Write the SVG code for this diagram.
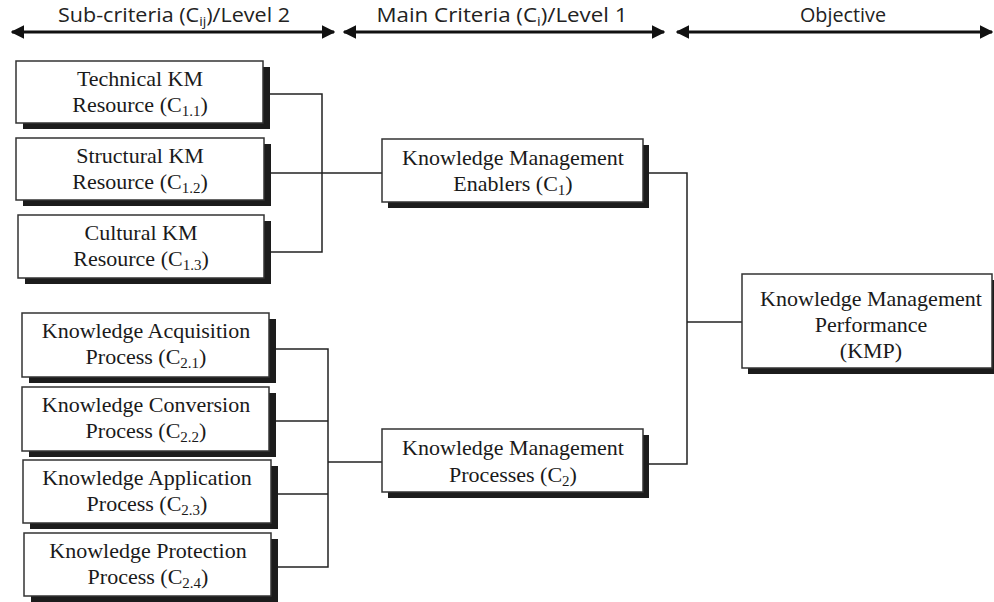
<svg xmlns="http://www.w3.org/2000/svg" width="994" height="602" viewBox="0 0 994 602">
<defs>
<marker id="ah" viewBox="0 0 10 10" refX="9" refY="5" markerWidth="4.5" markerHeight="5" orient="auto-start-reverse" markerUnits="strokeWidth">
<path d="M0,0 L10,5 L0,10 Z" fill="#111"/>
</marker>
</defs>
<style>
.hdr{font-family:"Open Sans","Liberation Sans",sans-serif;font-size:20px;fill:#222;text-anchor:middle}
.axis{stroke:#111;stroke-width:3;fill:none}
.sh{fill:#1c1c1c}
.bx{fill:#fff;stroke:#333;stroke-width:1.5}
.t{font-family:"Liberation Serif","Times New Roman",serif;font-size:22px;fill:#1a1a1a;text-anchor:middle}
.sub{font-size:15px}
.cn{stroke:#222;stroke-width:1.5;fill:none}
</style>
<rect width="994" height="602" fill="#fff"/>
<g id="header">
<line class="axis" x1="12" y1="32" x2="334" y2="32" marker-start="url(#ah)" marker-end="url(#ah)"/>
<line class="axis" x1="344" y1="32" x2="664" y2="32" marker-start="url(#ah)" marker-end="url(#ah)"/>
<line class="axis" x1="677" y1="32" x2="992" y2="32" marker-start="url(#ah)" marker-end="url(#ah)"/>
<text class="hdr" x="174" y="22" textLength="232" lengthAdjust="spacingAndGlyphs">Sub-criteria (C<tspan font-size="13" dy="4">ij</tspan><tspan dy="-4">)/Level 2</tspan></text>
<text class="hdr" x="502" y="22" textLength="251" lengthAdjust="spacingAndGlyphs">Main Criteria (C<tspan font-size="13" dy="4">i</tspan><tspan dy="-4">)/Level 1</tspan></text>
<text class="hdr" x="843" y="22" textLength="86" lengthAdjust="spacingAndGlyphs">Objective</text>
</g>
<g id="connectors">
<polyline class="cn" points="263,94 322,94 322,252 264,252"/>
<line class="cn" x1="264" y1="173" x2="382" y2="173"/>
<polyline class="cn" points="643,173 687,173 687,464 643,464"/>
<line class="cn" x1="687" y1="322" x2="742" y2="322"/>
<polyline class="cn" points="269,349 328,349 328,567 271,567"/>
<line class="cn" x1="269" y1="421" x2="328" y2="421"/>
<line class="cn" x1="271" y1="494" x2="328" y2="494"/>
<line class="cn" x1="328" y1="462" x2="382" y2="462"/>
</g>
<g id="c11">
<rect class="sh" x="23" y="67" width="247" height="62"/>
<rect class="bx" x="16" y="61" width="247" height="62"/>
<text class="t" x="140" y="86">Technical KM</text>
<text class="t" x="140" y="112">Resource (C<tspan class="sub" dy="4">1.1</tspan><tspan dy="-4">)</tspan></text>
</g>
<g id="c12">
<rect class="sh" x="23" y="144" width="248" height="62"/>
<rect class="bx" x="16" y="138" width="248" height="62"/>
<text class="t" x="140" y="163">Structural KM</text>
<text class="t" x="140" y="189">Resource (C<tspan class="sub" dy="4">1.2</tspan><tspan dy="-4">)</tspan></text>
</g>
<g id="c13">
<rect class="sh" x="25" y="221" width="246" height="63"/>
<rect class="bx" x="18" y="215" width="246" height="63"/>
<text class="t" x="141" y="240">Cultural KM</text>
<text class="t" x="141" y="266">Resource (C<tspan class="sub" dy="4">1.3</tspan><tspan dy="-4">)</tspan></text>
</g>
<g id="c21">
<rect class="sh" x="29" y="319" width="247" height="64"/>
<rect class="bx" x="22" y="313" width="247" height="64"/>
<text class="t" x="146" y="338">Knowledge Acquisition</text>
<text class="t" x="146" y="364">Process (C<tspan class="sub" dy="4">2.1</tspan><tspan dy="-4">)</tspan></text>
</g>
<g id="c22">
<rect class="sh" x="29" y="393" width="247" height="64"/>
<rect class="bx" x="22" y="387" width="247" height="64"/>
<text class="t" x="146" y="412">Knowledge Conversion</text>
<text class="t" x="146" y="438">Process (C<tspan class="sub" dy="4">2.2</tspan><tspan dy="-4">)</tspan></text>
</g>
<g id="c23">
<rect class="sh" x="30" y="466" width="248" height="63"/>
<rect class="bx" x="23" y="460" width="248" height="63"/>
<text class="t" x="147" y="485">Knowledge Application</text>
<text class="t" x="147" y="511">Process (C<tspan class="sub" dy="4">2.3</tspan><tspan dy="-4">)</tspan></text>
</g>
<g id="c24">
<rect class="sh" x="31" y="539" width="247" height="63"/>
<rect class="bx" x="24" y="533" width="247" height="63"/>
<text class="t" x="148" y="558">Knowledge Protection</text>
<text class="t" x="148" y="584">Process (C<tspan class="sub" dy="4">2.4</tspan><tspan dy="-4">)</tspan></text>
</g>
<g id="c1">
<rect class="sh" x="388" y="145" width="261" height="63"/>
<rect class="bx" x="382" y="139" width="261" height="63"/>
<text class="t" x="513" y="165">Knowledge Management</text>
<text class="t" x="513" y="191">Enablers (C<tspan class="sub" dy="4">1</tspan><tspan dy="-4">)</tspan></text>
</g>
<g id="c2">
<rect class="sh" x="388" y="435" width="261" height="63"/>
<rect class="bx" x="382" y="429" width="261" height="63"/>
<text class="t" x="513" y="455">Knowledge Management</text>
<text class="t" x="513" y="482">Processes (C<tspan class="sub" dy="4">2</tspan><tspan dy="-4">)</tspan></text>
</g>
<g id="kmp">
<rect class="sh" x="748" y="280" width="250" height="94"/>
<rect class="bx" x="742" y="274" width="250" height="94"/>
<text class="t" x="871" y="306">Knowledge Management</text>
<text class="t" x="871" y="332">Performance</text>
<text class="t" x="871" y="358">(KMP)</text>
</g>
</svg>
